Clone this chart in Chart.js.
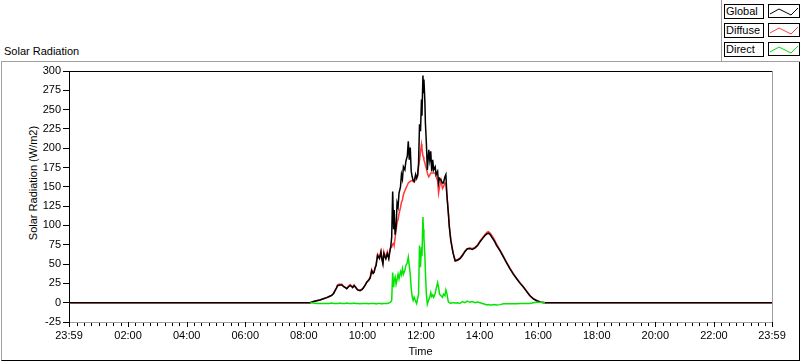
<!DOCTYPE html>
<html>
<head>
<meta charset="utf-8">
<script src="https://cdn.jsdelivr.net/npm/chart.js@4.4.1/dist/chart.umd.min.js"></script>
<style>
  html, body { margin: 0; padding: 0; background: #fff; }
  body { width: 800px; height: 361px; position: relative; overflow: hidden;
         font-family: "Liberation Sans", Arial, sans-serif; font-size: 11px; color: #000; }
  #frame { position: absolute; left: 1px; top: 61px; width: 799px; height: 300px; box-sizing: border-box;
           border-top: 1px solid #a0a0a0; border-left: 1px solid #a0a0a0;
           border-right: 1px solid #000; border-bottom: 1px solid #000; }
  #chart { position: absolute; left: 0; top: 0; }
  .title { position: absolute; left: 4px; top: 45px; line-height: 13px; }
  .ytitle { position: absolute; left: 33px; top: 183px; white-space: nowrap; line-height: 13px;
            transform: translate(-50%, -50%) rotate(-90deg); }
  #legend { position: absolute; left: 721px; top: 0; width: 79px; height: 62px; box-sizing: border-box;
            border-left: 1px solid #a0a0a0; border-bottom: 1px solid #a0a0a0; background: #fff; }
  .lab { position: absolute; left: 2px; width: 40px; height: 15px; box-sizing: border-box; color: #000;
         border: 1px solid #000; padding-left: 1px; line-height: 13px; }
  .smp { position: absolute; left: 46px; width: 32px; height: 14px; box-sizing: border-box; border: 1px solid #000; }
  .smp svg { display: block; }
</style>
</head>
<body>
<div id="frame"></div>
<div class="title">Solar Radiation</div>
<div class="ytitle">Solar Radiation (W/m2)</div>
<div id="legend">
  <div class="lab" style="top:4px">Global</div>
  <div class="smp" style="top:4px"><svg width="30" height="12"><polyline points="1,9 10,4 18,8 22,10 29,3" fill="none" stroke="#000" stroke-width="1"/></svg></div>
  <div class="lab" style="top:23px">Diffuse</div>
  <div class="smp" style="top:23px"><svg width="30" height="12"><polyline points="1,9 10,4 18,8 22,10 29,3" fill="none" stroke="#ff4040" stroke-width="1"/></svg></div>
  <div class="lab" style="top:42px">Direct</div>
  <div class="smp" style="top:42px"><svg width="30" height="12"><polyline points="1,9 10,4 18,8 22,10 29,3" fill="none" stroke="#00e000" stroke-width="1"/></svg></div>
</div>
<canvas id="chart" width="800" height="361"></canvas>
<script>
// minutes after midnight (-1 = 23:59 of the day before)
const times = [
  -1, 493, 500, 506, 513, 520, 527, 532, 537, 541,
  544, 547, 549, 552, 554, 558, 561, 565, 568, 572,
  575, 578, 580, 583, 586, 590, 595, 599, 602, 606,
  609, 613, 616, 619, 622, 624, 626, 628, 631, 635,
  638, 640, 642, 644, 646, 648, 651, 654, 656, 658,
  660, 662, 664, 665, 667, 669, 671, 673, 675, 678,
  680, 682, 684, 687, 689, 692, 694, 696, 698, 700,
  702, 704, 706, 709, 711, 713, 715, 717, 719, 721,
  722, 724, 725, 726, 728, 729, 731, 733, 736, 738,
  740, 742, 744, 746, 749, 751, 754, 756, 758, 761,
  764, 766, 769, 771, 773, 776, 778, 781, 784, 786,
  790, 795, 800, 805, 810, 815, 820, 825, 831, 836,
  841, 846, 851, 855, 858, 862, 865, 870, 875, 882,
  889, 895, 902, 909, 916, 923, 930, 937, 943, 950,
  957, 965, 974, 1439
];
const globalVals = [
  0, 0, 1.5, 2.5, 3.5, 5, 6.5, 8, 9.5, 12,
  15.5, 19, 22, 22.5, 23, 23, 21, 19.5, 18, 21,
  22, 21, 19.5, 22, 20, 16.5, 15.5, 17, 19, 23,
  26.5, 29, 32, 41.5, 38, 39.5, 45, 48, 61, 57,
  65.5, 56, 50, 63.5, 60, 57, 63.5, 57, 65.5, 72,
  85, 144, 95, 120, 88, 98, 129, 124, 142, 150,
  166, 160, 176, 172, 183, 190, 209, 185, 201, 170,
  163, 158, 157, 166, 161, 165, 180, 231, 222, 263,
  242, 294, 272, 289, 260, 233, 207, 172, 198, 185,
  196, 170, 185, 172, 176, 166, 170, 155, 161, 159,
  155, 155, 163, 166, 140, 116, 98, 81, 70, 63.5,
  54, 55, 57, 61, 66, 70, 70, 69, 71, 74,
  79, 83, 87, 89, 90, 88, 85, 80, 74, 67,
  59, 52, 44, 37, 31, 25, 20, 14, 9, 5,
  2.5, 0.5, 0, 0
];
const diffuseVals = [
  0, 0, 1.5, 2.5, 3.5, 5, 6.5, 8, 9.5, 12,
  16, 19.5, 23, 24, 24, 24, 21.5, 20, 18.5, 22,
  23.5, 21.5, 20, 23, 20.5, 17, 16, 17.5, 19.5, 23.5,
  27, 30, 33, 43, 38.5, 40, 46, 49, 63, 59,
  67, 58, 52, 66, 62, 58, 66, 58, 67, 72,
  72, 76, 77, 74, 84, 95, 103, 108, 115, 123,
  130, 133, 140, 145, 148, 152, 155, 156, 157, 158,
  158, 157, 156, 160, 161, 163, 175, 185, 195, 205,
  200, 190, 189, 185, 181, 178, 174, 168, 163, 165,
  168, 168, 168, 168, 168, 163, 158, 142, 150, 159,
  148, 150, 155, 153, 140, 118, 100, 82, 71, 64,
  55, 56, 58, 62, 67, 70, 71, 70, 72, 75,
  80, 84, 88, 91, 92, 90, 87, 82, 76, 68,
  60, 53, 45, 38, 31.5, 26, 20.5, 14.5, 9.5, 5.5,
  3, 1, 0, 0
];
const directVals = [
  null, 0, -0.5, -1, -1, -1, -1, -1, -0.5, -1,
  -1, -1, -1, -1, -0.5, -1, -1, -1, -0.5, -1,
  -1, -1, -1, -0.5, -1, -1, -1.5, -1, -1, -1,
  -1, -1.5, -1, -1, -1, -1, -1, -1.5, -1, -1,
  -1, -1.5, -1, -1, -1, -1, -1, -0.5, 0, 1,
  3, 39, 20, 28, 33, 24, 30, 37, 31, 40,
  36, 44, 37, 42, 48, 52, 59, 48, 37, 18,
  8, 3, 7, 2, -1, 5, 11, 74, 46, 72,
  60, 111, 95, 85, 60, 40, 11, -2, 4, 7,
  13, 8, 10, 7, 12, 18, 26, 20, 11, 9,
  7, 11, 9, 16.5, 12, 1, 0, -1, 0, 0,
  -0.5, 0, -1, 1.5, 0, 2, 0.5, 1.5, 0, 1,
  0, -1, -2, -3, -2.5, -3, -3, -2.5, -3, -2.5,
  -1.5, -1.5, -1.5, -1.5, -1.5, -1, -1, -1, -1, 0,
  0.5, 0.5, 0, null
];
const xMajorTicks = [-1, 120, 240, 360, 480, 600, 720, 840, 960, 1080, 1200, 1320, 1439];
const xTickLabels = ['23:59', '02:00', '04:00', '06:00', '08:00', '10:00', '12:00',
                     '14:00', '16:00', '18:00', '20:00', '22:00', '23:59'];
const xMinorStep = 15;

const pts = vals => times.map((t, i) => ({ x: t, y: vals[i] }));

// LabVIEW style x ticks: long marks with labels, short ones in between
const tickMarks = {
  id: 'tickMarks',
  afterDraw(chart) {
    const s = chart.scales.x, ctx = chart.ctx;
    ctx.save();
    ctx.fillStyle = '#000';
    s.ticks.forEach(t => {
      const px = Math.round(s.getPixelForValue(t.value));
      if (t.major) ctx.fillRect(px, s.top, 1, 5);
      else ctx.fillRect(px, s.top + 1, 1, 3);
    });
    ctx.restore();
  }
};

new Chart(document.getElementById('chart'), {
  type: 'line',
  data: {
    datasets: [
      { label: 'Direct', data: pts(directVals), borderColor: '#00e600', borderWidth: 1.5, order: 0 },
      { label: 'Global', data: pts(globalVals), borderColor: '#000000', borderWidth: 1.5, order: 1 },
      { label: 'Diffuse', data: pts(diffuseVals), borderColor: '#ff3838', borderWidth: 1.5, order: 2 },
    ],
  },
  options: {
    responsive: false,
    devicePixelRatio: 1,
    animation: false,
    elements: { point: { radius: 0 }, line: { tension: 0 } },
    layout: { padding: { left: 0, top: 71, right: 28, bottom: 0 } },
    plugins: { legend: { display: false }, tooltip: { enabled: false } },
    scales: {
      x: {
        type: 'linear',
        position: 'bottom',
        min: -1,
        max: 1439,
        afterBuildTicks: (scale) => {
          const ticks = xMajorTicks.map(v => ({ value: v, major: true }));
          for (let m = xMinorStep; m < 1439; m += xMinorStep) {
            if (m % 120) ticks.push({ value: m, major: false });
          }
          ticks.sort((a, b) => a.value - b.value);
          scale.ticks = ticks;
        },
        afterFit: (scale) => { scale.height = 39; },
        ticks: {
          autoSkip: false,
          maxRotation: 0,
          padding: 7,
          color: '#000',
          font: { family: 'Liberation Sans', size: 11 },
          callback: (v) => {
            const i = xMajorTicks.indexOf(v);
            return i < 0 ? '' : xTickLabels[i];
          },
        },
        grid: { display: false, drawTicks: false },
        border: { color: '#a0a0a0', width: 1 },
        title: {
          display: true,
          text: 'Time',
          color: '#000',
          font: { family: 'Liberation Sans', size: 11 },
          padding: { top: 0, bottom: 2 },
        },
      },
      xTop: {
        type: 'linear',
        position: 'top',
        ticks: { display: false },
        grid: { display: false, drawTicks: false },
        border: { color: '#000', width: 1 },
        afterFit: (scale) => { scale.height = 0; },
      },
      y: {
        position: 'left',
        min: -25,
        max: 300,
        afterFit: (scale) => { scale.width = 69; },
        ticks: {
          stepSize: 25,
          padding: 2,
          color: '#000',
          font: { family: 'Liberation Sans', size: 11 },
        },
        grid: { drawOnChartArea: false, drawTicks: true, tickLength: 6, tickColor: '#000', color: '#000' },
        border: { color: '#000', width: 1 },
      },
      yRight: {
        position: 'right',
        ticks: { display: false },
        grid: { display: false, drawTicks: false },
        border: { color: '#a0a0a0', width: 1 },
        afterFit: (scale) => { scale.width = 0; },
      },
    },
  },
  plugins: [tickMarks],
});
</script>
</body>
</html>
